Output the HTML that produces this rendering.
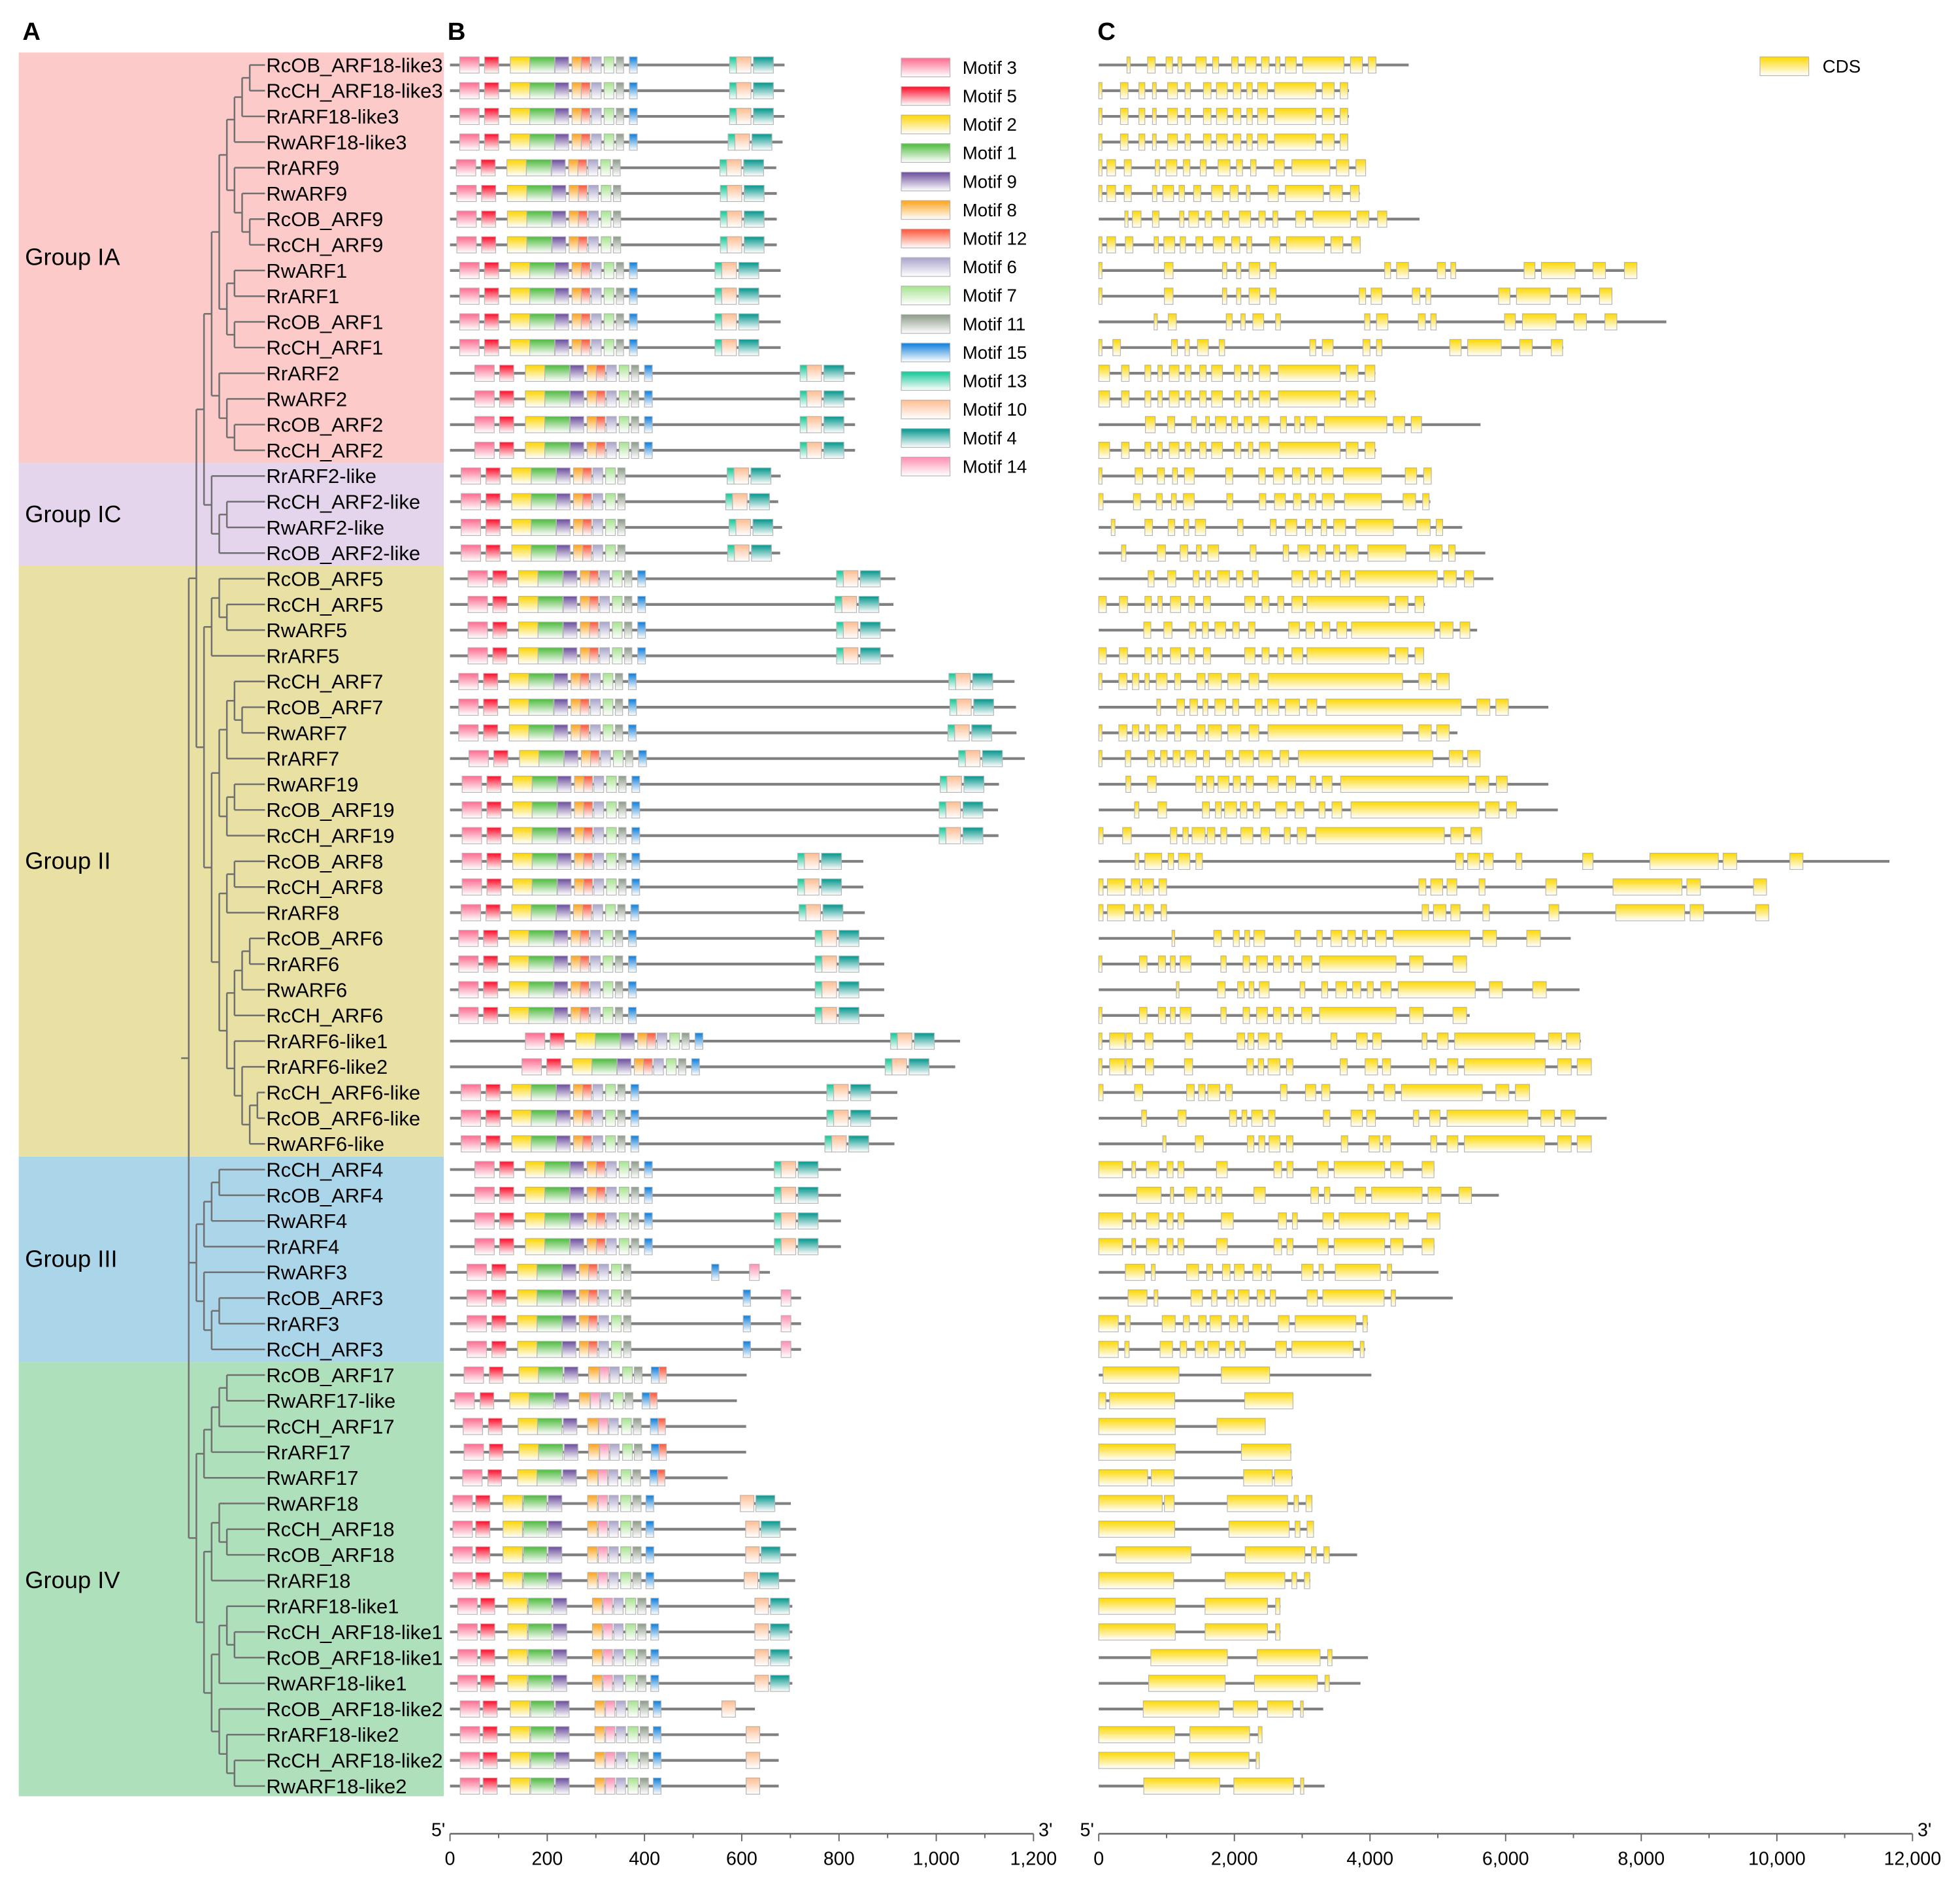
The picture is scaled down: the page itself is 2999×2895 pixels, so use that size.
<!DOCTYPE html>
<html><head><meta charset="utf-8">
<style>
html,body{margin:0;padding:0;background:#fff;}
svg{display:block;}
text{font-family:"Liberation Sans",Arial,sans-serif;}
</style></head>
<body>
<svg id="fig" xmlns="http://www.w3.org/2000/svg" width="2999" height="2895" viewBox="0 0 1568 1513.6" preserveAspectRatio="none">
<defs id="defs"></defs>
<g id="bands"></g>
<g id="tree"></g>
<g id="names"></g>
<g id="motifs"></g>
<g id="genes"></g>
<g id="legend"></g>
<g id="axes"></g>
<text x="18" y="32" font-size="20" font-weight="bold">A</text>
<text x="358" y="32" font-size="20" font-weight="bold">B</text>
<text x="878" y="32" font-size="20" font-weight="bold">C</text>
</svg>
<script>
const genes=["RcOB_ARF18-like3","RcCH_ARF18-like3","RrARF18-like3","RwARF18-like3","RrARF9","RwARF9","RcOB_ARF9","RcCH_ARF9","RwARF1","RrARF1","RcOB_ARF1","RcCH_ARF1","RrARF2","RwARF2","RcOB_ARF2","RcCH_ARF2","RrARF2-like","RcCH_ARF2-like","RwARF2-like","RcOB_ARF2-like","RcOB_ARF5","RcCH_ARF5","RwARF5","RrARF5","RcCH_ARF7","RcOB_ARF7","RwARF7","RrARF7","RwARF19","RcOB_ARF19","RcCH_ARF19","RcOB_ARF8","RcCH_ARF8","RrARF8","RcOB_ARF6","RrARF6","RwARF6","RcCH_ARF6","RrARF6-like1","RrARF6-like2","RcCH_ARF6-like","RcOB_ARF6-like","RwARF6-like","RcCH_ARF4","RcOB_ARF4","RwARF4","RrARF4","RwARF3","RcOB_ARF3","RrARF3","RcCH_ARF3","RcOB_ARF17","RwARF17-like","RcCH_ARF17","RrARF17","RwARF17","RwARF18","RcCH_ARF18","RcOB_ARF18","RrARF18","RrARF18-like1","RcCH_ARF18-like1","RcOB_ARF18-like1","RwARF18-like1","RcOB_ARF18-like2","RrARF18-like2","RcCH_ARF18-like2","RwARF18-like2"];
const protLen=[688,688,688,684,671,672,672,672,680,680,680,680,833,833,833,833,680,675,683,679,916,912,916,912,1161,1164,1165,1182,1129,1127,1128,850,850,853,893,893,893,893,1049,1039,920,920,914,804,804,804,804,658,722,722,722,610,590,609,609,571,701,712,712,710,704,704,704,704,627,676,676,676];
const nStart=[20,20,20,20,13,14,14,14,20,20,20,20,51,51,51,51,23,23,23,23,37,37,37,37,18,18,18,39,25,25,25,25,25,23,18,18,18,18,155,148,23,23,23,51,51,51,51,35,35,35,35,29,10,27,29,26,6,6,6,6,16,16,16,16,21,21,21,21];
const cStart=[575,575,575,572,555,556,556,556,545,545,545,545,720,720,720,720,570,567,574,571,795,792,795,795,1026,1028,1024,1046,1008,1006,1006,715,715,718,751,751,751,751,906,895,775,775,771,667,667,667,667,538,603,603,603,null,null,null,null,null,597,608,608,605,627,627,627,627,559,609,609,609];
const nType=["A","A","A","A","A","A","A","A","A","A","A","A","A","A","A","A","A","A","A","A","A","A","A","A","A","A","A","A","A","A","A","A","A","A","A","A","A","A","A","A","A","A","A","A","A","A","A","A","A","A","A","B","B","B","B","B","C","C","C","C","C","C","C","C","C","C","C","C"];
const cType=["full","full","full","full","full","full","full","full","full","full","full","full","full","full","full","full","full","full","full","full","full","full","full","full","full","full","full","full","full","full","full","full","full","full","full","full","full","full","full","full","full","full","full","full","full","full","full","III","III","III","III","none","none","none","none","none","IV","IV","IV","IV","IV","IV","IV","IV","IVp","IVp","IVp","IVp"];
const hasM15=[1,1,1,1,0,0,0,0,1,1,1,1,1,1,1,1,0,0,0,0,1,1,1,1,1,1,1,1,1,1,1,1,1,1,1,1,1,1,1,1,1,1,1,1,1,1,1,0,0,0,0,1,1,1,1,1,1,1,1,1,1,1,1,1,1,1,1,1];
const tplA=[["m3",0,40],["m5",51,80],["m2",104,144],["m1",144,195],["m9",196,224],["m8",231,250],["m12",250,268],["m6",271,291],["m7",297,317],["m11",322,337]];
const tplA15=[["m15",349,365]];
const tplB=[["m3",0,40],["m5",52,80],["m2",113,153],["m1",153,203],["m9",206,234],["m8",256,278],["m14",279,298],["m6",300,319],["m7",326,346],["m11",350,366],["m15",385,401],["m12",401,416]];
const tplC=[["m3",0,40],["m5",47,76],["m2",103,143],["m1",145,193],["m9",196,224],["m8",277,297],["m14",299,318],["m6",321,340],["m7",345,366],["m11",370,387],["m15",397,413]];
const cFull=[["m13",0,14],["m10",14,44],["m4",49,90]];
const cIV=[["m10",0,28],["m4",32,71]];
const cIVp=[["m10",0,28]];
const cIII=[["m15",0,15],["m14",78,98]];
const geneLen=[4570,3690,3690,3670,3940,3850,4730,3860,7940,7570,8370,6850,4080,4090,5630,4090,4900,4890,5360,5700,5820,4810,5580,4780,5170,6630,5290,5620,6630,6770,5650,11660,9850,9880,6960,5430,7090,5470,7110,7270,6350,7490,7260,4950,5900,5030,4950,5010,5220,3970,3930,4020,2860,2460,2840,2860,3150,3170,3810,3120,2680,2680,3970,3860,3310,2410,2370,3330];
const E18=[[0,48],[320,432],[592,680],[792,848],[1016,1160],[1272,1352],[1544,1656],[1736,1896],[1984,2096],[2184,2264],[2344,2488],[2592,3200],[3296,3472],[3560,3672]];
const E2=[[0,160],[336,448],[680,768],[872,936],[1040,1184],[1272,1360],[1488,1584],[1664,1824],[2000,2096],[2208,2272],[2368,2528],[2648,3560],[3648,3824],[3928,4072]];
const E5=[[0,112],[304,424],[680,776],[872,936],[1056,1208],[1328,1416],[1544,1648],[2152,2304],[2408,2512],[2640,2728],[2848,3008],[3072,4280],[4376,4560],[4664,4792]];
const E7=[[0,48],[296,416],[496,592],[680,744],[848,1008],[1120,1208],[1448,1568],[1616,1808],[1904,2096],[2216,2360],[2496,4480],[4720,4904],[4984,5168]];
const E6=[[0,48],[600,712],[880,984],[1056,1128],[1200,1360],[1800,1880],[2128,2224],[2328,2488],[2576,2688],[2800,2872],[2992,3144],[3256,4384],[4584,4784],[5224,5424]];
const E4=[[0,352],[488,544],[704,888],[1008,1096],[1168,1256],[1736,1896],[2584,2696],[2776,2864],[3224,3384],[3472,4216],[4304,4488],[4768,4944]];
const E18L1=[[0,1128],[1568,2488],[2608,2672]];
const exons=[
[[416,464],[720,832],[992,1088],[1168,1224],[1432,1584],[1680,1768],[1960,2056],[2160,2320],[2400,2512],[2608,2672],[2752,2912],[3008,3616],[3712,3888],[3976,4088]],
E18,E18,E18,
[[0,48],[120,248],[376,480],[832,896],[992,1152],[1248,1344],[1496,1584],[1760,1936],[2032,2120],[2240,2320],[2584,2736],[2848,3408],[3504,3688],[3792,3936]],
[[0,48],[120,248],[376,480],[792,856],[944,1104],[1184,1264],[1400,1504],[1664,1832],[1936,2056],[2176,2232],[2496,2648],[2752,3312],[3408,3592],[3712,3840]],
[[384,432],[496,624],[792,888],[1192,1256],[1328,1472],[1568,1664],[1824,1920],[2072,2240],[2360,2456],[2568,2640],[2904,3048],[3160,3712],[3808,3984],[4112,4248]],
[[0,48],[120,248],[392,504],[816,880],[960,1120],[1200,1280],[1432,1536],[1688,1856],[1960,2080],[2184,2256],[2520,2672],[2768,3328],[3424,3600],[3728,3856]],
[[0,48],[968,1096],[1824,1888],[2032,2096],[2216,2376],[2520,2616],[4216,4304],[4392,4568],[4992,5112],[5192,5264],[6272,6432],[6528,7024],[7288,7472],[7752,7936]],
[[0,48],[968,1096],[1824,1888],[2032,2096],[2216,2376],[2520,2616],[3840,3936],[4016,4176],[4624,4736],[4824,4896],[5896,6064],[6160,6656],[6912,7104],[7384,7568]],
[[816,864],[1024,1144],[1880,1968],[2096,2160],[2272,2432],[2608,2680],[3920,4000],[4096,4264],[4712,4816],[4896,4976],[5984,6144],[6248,6744],[7008,7192],[7464,7640]],
[[0,48],[208,320],[1072,1160],[1272,1336],[1456,1616],[1776,1856],[3112,3200],[3296,3456],[3896,4000],[4096,4176],[5176,5344],[5440,5936],[6208,6392],[6672,6840]],
E2,E2,
[[688,832],[1016,1120],[1368,1440],[1576,1632],[1720,1880],[1960,2048],[2144,2256],[2360,2512],[2680,2768],[2888,2968],[3040,3216],[3328,4248],[4344,4512],[4608,4760]],
E2,
[[0,48],[536,648],[864,968],[1088,1160],[1264,1408],[1872,1976],[2360,2456],[2576,2736],[2856,2976],[3088,3184],[3288,3456],[3608,4168],[4520,4688],[4792,4904]],
[[0,64],[512,616],[848,936],[1072,1144],[1248,1408],[1888,1976],[2368,2464],[2592,2752],[2872,2984],[3104,3200],[3296,3472],[3624,4168],[4488,4672],[4776,4872]],
[[184,240],[680,792],[1024,1120],[1256,1328],[1424,1576],[2048,2128],[2528,2616],[2752,2920],[3048,3152],[3280,3360],[3464,3640],[3792,4344],[4696,4888],[4976,5072]],
[[336,400],[864,984],[1200,1312],[1440,1512],[1608,1768],[2232,2320],[2720,2800],[2936,3112],[3224,3344],[3464,3552],[3648,3824],[3968,4528],[4880,5064],[5160,5256]],
[[728,816],[1016,1136],[1392,1480],[1576,1648],[1752,1928],[2032,2128],[2264,2352],[2848,3008],[3104,3224],[3344,3432],[3560,3704],[3784,4992],[5088,5272],[5392,5528]],
E5,
[[664,768],[960,1080],[1336,1432],[1528,1616],[1712,1872],[1976,2072],[2208,2304],[2800,2960],[3056,3184],[3296,3408],[3512,3656],[3728,4952],[5032,5224],[5328,5472]],
E5,
E7,
[[856,912],[1152,1264],[1344,1456],[1536,1608],[1712,1872],[1976,2064],[2304,2408],[2488,2656],[2752,2960],[3072,3216],[3352,5344],[5576,5768],[5856,6040]],
E7,
[[0,48],[392,472],[720,824],[912,1008],[1096,1200],[1272,1440],[1544,1632],[1872,1976],[2072,2280],[2360,2560],[2672,2800],[2944,4928],[5168,5368],[5440,5624]],
[[400,472],[720,848],[1432,1528],[1592,1696],[1760,1920],[1984,2088],[2176,2280],[2488,2648],[2768,2904],[3120,3200],[3296,3440],[3568,5456],[5560,5752],[5864,6024]],
[[528,592],[872,1000],[1528,1632],[1720,1808],[1856,2032],[2088,2184],[2280,2376],[2608,2776],[2896,3024],[3248,3336],[3440,3584],[3720,5608],[5704,5904],[6016,6160]],
[[0,64],[352,480],[1056,1152],[1240,1320],[1376,1568],[1600,1712],[1800,1888],[2096,2272],[2392,2520],[2736,2824],[2928,3064],[3200,5096],[5192,5384],[5488,5648]],
[[536,592],[680,928],[1024,1104],[1176,1344],[1432,1528],[5264,5376],[5440,5616],[5680,5816],[6152,6240],[7136,7288],[8128,9136],[9208,9408],[10192,10384]],
[[0,64],[128,384],[480,608],[640,808],[888,1000],[4720,4824],[4896,5072],[5136,5280],[5608,5696],[6592,6752],[7584,8600],[8672,8872],[9656,9848]],
[[0,64],[128,384],[512,608],[672,808],[920,1000],[4768,4864],[4936,5120],[5192,5328],[5664,5760],[6640,6784],[7624,8640],[8720,8920],[9688,9880]],
[[1080,1120],[1696,1808],[1984,2072],[2152,2224],[2288,2448],[2888,2976],[3216,3296],[3424,3584],[3672,3784],[3888,3960],[4080,4240],[4344,5472],[5664,5864],[6312,6512]],
E6,
[[1144,1184],[1752,1864],[2048,2144],[2216,2288],[2368,2512],[2968,3040],[3288,3376],[3496,3656],[3744,3864],[3960,4048],[4160,4312],[4416,5552],[5760,5952],[6400,6600]],
E6,
[[0,48],[160,384],[400,496],[680,800],[1272,1384],[2040,2152],[2200,2288],[2352,2512],[2616,2704],[3424,3512],[3800,3960],[4040,4168],[4768,4840],[4992,5152],[5248,6432],[6632,6824],[6896,7096]],
[[0,48],[160,384],[400,496],[688,808],[1264,1384],[2184,2280],[2352,2432],[2496,2672],[2768,2864],[3560,3664],[3928,4112],[4184,4304],[4880,4976],[5144,5296],[5392,6584],[6768,6968],[7056,7264]],
[[0,64],[528,648],[1296,1408],[1472,1568],[1608,1784],[1872,1968],[2680,2776],[3048,3200],[3288,3408],[3968,4056],[4208,4368],[4464,5656],[5856,6048],[6144,6352]],
[[632,704],[1168,1288],[1928,2032],[2112,2184],[2256,2416],[2504,2600],[3312,3408],[3720,3888],[3952,4080],[4640,4720],[4880,5032],[5136,6328],[6520,6720],[6816,7024]],
[[944,992],[1424,1544],[2192,2288],[2360,2448],[2512,2672],[2768,2864],[3576,3672],[3984,4144],[4192,4304],[4896,4984],[5136,5296],[5392,6576],[6768,6968],[7056,7264]],
E4,
[[560,920],[1056,1104],[1264,1448],[1568,1656],[1728,1816],[2288,2456],[3128,3240],[3328,3408],[3776,3936],[4024,4768],[4856,5048],[5312,5496]],
[[0,352],[488,544],[704,888],[1008,1096],[1168,1256],[1808,1984],[2648,2768],[2856,2928],[3304,3464],[3544,4288],[4376,4568],[4840,5032]],
E4,
[[392,680],[776,832],[1296,1472],[1592,1680],[1824,1936],[2000,2144],[2272,2400],[2480,2544],[2992,3160],[3248,3312],[3488,4152],[4256,4320]],
[[432,712],[816,872],[1360,1528],[1664,1744],[1888,2000],[2056,2216],[2336,2448],[2528,2608],[3072,3224],[3304,4208],[4312,4376]],
[[0,288],[392,464],[936,1128],[1248,1336],[1472,1584],[1640,1808],[1928,2048],[2128,2208],[2648,2808],[2896,3792],[3896,3960]],
[[0,288],[384,448],[904,1088],[1200,1296],[1424,1552],[1608,1776],[1872,2000],[2080,2160],[2608,2768],[2848,3752],[3856,3912]],
[[64,1184],[1808,2520]],
[[0,104],[160,1120],[2152,2864]],
[[0,1128],[1744,2456]],
[[0,1128],[2104,2832]],
[[0,720],[776,1112],[2136,2560],[2592,2848]],
[[0,936],[968,1112],[1896,2784],[2880,2944],[3056,3144]],
[[0,1120],[1920,2808],[2896,2968],[3072,3168]],
[[256,1360],[2160,3040],[3136,3208],[3320,3400]],
[[0,1104],[1864,2744],[2848,2920],[3032,3112]],
E18L1,E18L1,
[[768,1896],[2336,3264],[3376,3440]],
[[736,1864],[2296,3224],[3336,3400]],
[[656,1776],[1984,2344],[2488,2864],[2976,3016]],
[[0,1120],[1344,2224],[2352,2408]],
[[0,1120],[1336,2216],[2320,2368]],
[[664,1784],[1992,2872],[2976,3024]]
];
const motifKeys=["m3","m5","m2","m1","m9","m8","m12","m6","m7","m11","m15","m13","m10","m4","m14"];
const motifLabels=["Motif 3","Motif 5","Motif 2","Motif 1","Motif 9","Motif 8","Motif 12","Motif 6","Motif 7","Motif 11","Motif 15","Motif 13","Motif 10","Motif 4","Motif 14"];
const motifColors={m3:"#ff6a8f",m5:"#ff0a28",m2:"#ffd500",m1:"#4dbb3c",m9:"#6a4c9c",m8:"#ffa41a",m12:"#ff5436",m6:"#a9a4cb",m7:"#a6e48e",m11:"#8c9a88",m15:"#0a7ddc",m13:"#10c896",m10:"#ffbd90",m4:"#00968c",m14:"#ff8fb2",cds:"#ffd800"};
const groupNames=["Group IA","Group IC","Group II","Group III","Group IV"];
const groupFirst=[0,16,20,43,51];
const groupLast=[15,19,42,50,67];
const groupColors=["#fdcaca","#e4d4ec","#e9e1a4","#abd6ea","#aee0bc"];
const protTicks=[0,200,400,600,800,1000,1200];
const protTickLabels=["0","200","400","600","800","1,000","1,200"];
const bpTicks=[0,2000,4000,6000,8000,10000,12000];
const bpTickLabels=["0","2,000","4,000","6,000","8,000","10,000","12,000"];
const tree=[10,
 [9,[8,[7,[6,[5,[4,[3,[2,0,1],2],3],[4,4,[3,5,[2,6,7]]]],[5,[4,8,9],[4,10,11]]],[6,12,[5,13,[4,14,15]]]],[7,16,[6,[5,17,18],19]]],
    [8,[7,[6,20,[5,21,22]],23],[7,[6,[5,[4,24,[3,25,26]],27],[5,[4,28,29],30]],[6,[5,[4,31,32],33],[5,[4,[3,[2,34,35],36],37],[4,38,[3,39,[2,[1,40,41],42]]]]]]]],
 [9,[8,[7,[6,43,44],45],46],[8,47,[7,[6,48,49],50]]],
 [9,[8,[7,[6,[5,51,52],53],54],55],[8,[7,[6,56,[5,57,58]],59],[7,[6,[5,60,[4,61,62]],63],[6,64,[5,65,[4,66,67]]]]]]
];

const NS="http://www.w3.org/2000/svg";
const Y=i=>52+20.55*i;
const xB=aa=>360+aa*0.389;
const xC=bp=>879+bp*0.05425;
const TIPX=212, LV=6.1;
const xLvl=l=>TIPX-l*LV;
function mk(tag,attrs,parent){const e=document.createElementNS(NS,tag);for(const k in attrs)e.setAttribute(k,attrs[k]);parent.appendChild(e);return e;}
const defs=document.getElementById('defs');
for(const k in motifColors){
  const g=mk('linearGradient',{id:'g_'+k,x1:0,y1:0,x2:0,y2:1},defs);
  mk('stop',{offset:'0','stop-color':motifColors[k]},g);
  mk('stop',{offset:'1','stop-color':'#ffffff'},g);
}
const bands=document.getElementById('bands');
groupNames.forEach((gn,gi)=>{
  const top=gi===0?42:(Y(groupFirst[gi])+Y(groupFirst[gi]-1))/2;
  const bot=gi===4?1437:(Y(groupLast[gi])+Y(groupLast[gi]+1))/2;
  const r=mk('rect',{x:15,y:top,width:340,height:bot-top,fill:groupColors[gi]},bands);
  
  
  const midY=(Y(groupFirst[gi])+Y(groupLast[gi]))/2;
  const t=mk('text',{x:20,y:midY+6,'font-size':19},bands);
  t.textContent=gn;
  
  
});
const tg=document.getElementById('tree');
function drawNode(n){
  if(typeof n==='number') return {x:TIPX,y:Y(n)};
  const x=xLvl(n[0]);
  const ch=n.slice(1).map(drawNode);
  ch.forEach(c=>{const l=mk('line',{x1:x,y1:c.y,x2:c.x,y2:c.y,stroke:'#707070','stroke-width':1.3},tg);
    
    });
  const y0=ch[0].y,y1=ch[ch.length-1].y;
  const v=mk('line',{x1:x,y1:y0,x2:x,y2:y1,stroke:'#707070','stroke-width':1.3},tg);
  
  
  return {x:x,y:(y0+y1)/2};
}
const root=drawNode(tree);
const stub=mk('line',{x1:xLvl(11),y1:root.y,x2:root.x,y2:root.y,stroke:'#707070','stroke-width':1.3},tg);


const ng=document.getElementById('names');
genes.forEach((g,i)=>{
  const t=mk('text',{x:213,y:Y(i)+5.7,'font-size':16.2},ng);
  t.textContent=g;
  
  
});
const mg=document.getElementById('motifs');
function box(parent,x1,x2,y,key,h){
  return mk('rect',{x:x1,y:y-h/2,width:Math.max(1,x2-x1),height:h,fill:'url(#g_'+key+')',stroke:'#b4b4b4','stroke-width':0.6},parent);
}
genes.forEach((g,i)=>{
  const y=Y(i);
  const l=mk('line',{x1:xB(0),y1:y,x2:xB(protLen[i]),y2:y,stroke:'#808080','stroke-width':2.2},mg);
  
  
  let tpl=nType[i]==='A'?tplA.concat(hasM15[i]?tplA15:[]):(nType[i]==='B'?tplB:tplC);
  tpl.forEach(m=>{
    const r=box(mg,xB(nStart[i]+m[1]),xB(nStart[i]+m[2]),y,m[0],13);
    
    
  });
  const ct={full:cFull,IV:cIV,IVp:cIVp,III:cIII,none:[]}[cType[i]];
  ct.forEach(m=>{
    const r=box(mg,xB(cStart[i]+m[1]),xB(cStart[i]+m[2]),y,m[0],13);
    
    
  });
});
const gg=document.getElementById('genes');
genes.forEach((g,i)=>{
  const y=Y(i);
  const l=mk('line',{x1:xC(0),y1:y,x2:xC(geneLen[i]),y2:y,stroke:'#808080','stroke-width':2.2},gg);
  
  
  exons[i].forEach(e=>{
    const r=box(gg,xC(e[0]),xC(e[1]),y,'cds',13);
    
    
  });
});
const lg=document.getElementById('legend');
motifKeys.forEach((k,j)=>{
  const y=54+22.8*j;
  const r=box(lg,721,760,y,k,15);
  
  
  const t=mk('text',{x:770,y:y+5,'font-size':14.5},lg);
  t.textContent=motifLabels[j];
  
  
});
const cr=box(lg,1408,1447,53,'cds',15);


const ct=mk('text',{x:1458,y:58,'font-size':14.5},lg);
ct.textContent='CDS';


const ag=document.getElementById('axes');
function axis(x0,x1,ticks,labels,scale,minorStep,name){
  const AY=1467;
  const l=mk('line',{x1:x0,y1:AY,x2:x1,y2:AY,stroke:'#666','stroke-width':1.3},ag);
  
  
  const max=ticks[ticks.length-1];
  for(let v=0;v<=max;v+=minorStep){
    const isMaj=ticks.indexOf(v)>=0;
    const tk=mk('line',{x1:scale(v),y1:AY,x2:scale(v),y2:AY+(isMaj?6:3.5),stroke:'#666','stroke-width':1},ag);
    
    
  }
  ticks.forEach((v,j)=>{
    const t=mk('text',{x:scale(v),y:AY+25,'font-size':15,'text-anchor':'middle'},ag);
    t.textContent=labels[j];
    
    
  });
  const a=mk('text',{x:x0-15,y:AY+2,'font-size':15},ag);
  a.textContent="5'";
  
  
  const b=mk('text',{x:x1+4,y:AY+2,'font-size':15},ag);
  b.textContent="3'";
  
  
}
axis(xB(0),xB(1200),protTicks,protTickLabels,xB,100,'protein-axis');
axis(xC(0),xC(12000),bpTicks,bpTickLabels,xC,1000,'gene-axis');
</script>
</body></html>
